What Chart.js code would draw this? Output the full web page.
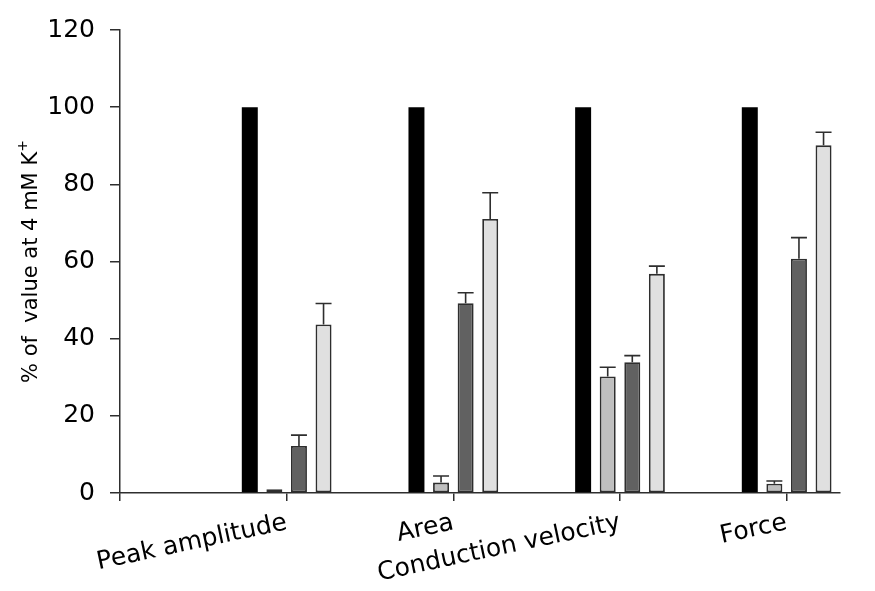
<!DOCTYPE html>
<html>
<head>
<meta charset="utf-8">
<script src="https://cdn.jsdelivr.net/npm/chart.js@4.4.1/dist/chart.umd.min.js"></script>
<style>
    html, body { margin: 0; padding: 0; background: #fff; }
    #wrap { width: 875px; height: 591px; }
</style>
</head>
<body>
<div id="wrap"><canvas id="potassiumChart" width="875" height="591"></canvas></div>
<script>
// measures, one group of bars each
const categories = ['Peak amplitude', 'Area', 'Conduction velocity', 'Force'];

// black reference bars (4 mM K+ = 100 %)
const refValues = [100, 100, 100, 100];

// grey bars and their SEM
const lightValues = [1.0, 2.7, 30.2, 2.4];
const lightErr = [0, 1.7, 2.4, 0.7];
const darkValues = [12.2, 49.2, 33.9, 60.7];
const darkErr = [2.8, 2.7, 1.7, 5.5];
const paleValues = [43.7, 71.0, 56.8, 90.1];
const paleErr = [5.4, 6.8, 2.0, 3.4];

const yTicks = [0, 20, 40, 60, 80, 100, 120];

const colors = {
    black: '#000000',
    light: '#bfbfbf',
    dark: '#616161',
    pale: '#e0e0e0',
    line: '#2e2e2e'
};

const fontFamily = '"DejaVu Sans", sans-serif';

// x is a linear axis so the groups sit on integer ticks 1..4
const toPoints = values => values.map((v, i) => ({ x: i + 1, y: v }));

const makeSet = (label, values, errors, fill, border) => ({
    label: label,
    data: toPoints(values),
    errors: errors,
    backgroundColor: fill,
    borderColor: border,
    borderWidth: border ? 1.8 : 0,
    borderSkipped: false,
    categoryPercentage: 0.59,
    barPercentage: 0.65
});

// upper error whiskers with a cap as wide as the bar
const errorBars = {
    id: 'errorBars',
    afterDatasetsDraw(chart) {
        const ctx = chart.ctx;
        const yScale = chart.scales.y;
        ctx.save();
        ctx.strokeStyle = colors.line;
        ctx.lineWidth = 1.6;
        chart.data.datasets.forEach((ds, di) => {
            if (!ds.errors) return;
            chart.getDatasetMeta(di).data.forEach((bar, i) => {
                const err = ds.errors[i];
                if (!err) return;
                const top = yScale.getPixelForValue(ds.data[i].y + err);
                const half = bar.width / 2;
                ctx.beginPath();
                ctx.moveTo(bar.x, bar.y);
                ctx.lineTo(bar.x, top);
                ctx.moveTo(bar.x - half, top);
                ctx.lineTo(bar.x + half, top);
                ctx.stroke();
            });
        });
        ctx.restore();
    }
};

// rotated y title with a raised "+"
const yTitle = {
    id: 'yTitle',
    afterDraw(chart) {
        const ctx = chart.ctx;
        const area = chart.chartArea;
        const main = '% of  value at 4 mM K';
        const sup = '+';
        ctx.save();
        ctx.fillStyle = '#000';
        ctx.textBaseline = 'alphabetic';
        ctx.font = '21px ' + fontFamily;
        const mainW = ctx.measureText(main).width;
        ctx.font = '14px ' + fontFamily;
        const supW = ctx.measureText(sup).width;
        const total = mainW + supW;
        ctx.translate(37, (area.top + area.bottom) / 2);
        ctx.rotate(-Math.PI / 2);
        ctx.textAlign = 'left';
        ctx.font = '21px ' + fontFamily;
        ctx.fillText(main, -total / 2, 0);
        ctx.font = '14px ' + fontFamily;
        ctx.fillText(sup, -total / 2 + mainW, -10);
        ctx.restore();
    }
};

const ctx = document.getElementById('potassiumChart').getContext('2d');
new Chart(ctx, {
    type: 'bar',
    data: {
        datasets: [
            makeSet('4 mM K+', refValues, null, colors.black, null),
            makeSet('light', lightValues, lightErr, colors.light, colors.line),
            makeSet('dark', darkValues, darkErr, colors.dark, colors.line),
            makeSet('pale', paleValues, paleErr, colors.pale, colors.line)
        ]
    },
    options: {
        responsive: false,
        animation: false,
        devicePixelRatio: 1,
        layout: { padding: { top: 20, right: 35, left: 0, bottom: 0 } },
        plugins: {
            legend: { display: false },
            tooltip: { enabled: false }
        },
        scales: {
            x: {
                type: 'linear',
                min: 0,
                max: 4.32,
                offset: false,
                afterFit: scale => { scale.height = 98; },
                grid: {
                    offset: false,
                    drawOnChartArea: false,
                    drawTicks: true,
                    tickLength: 8,
                    tickColor: colors.line,
                    lineWidth: 1.5
                },
                border: { display: true, color: colors.line, width: 1.5 },
                ticks: {
                    stepSize: 1,
                    includeBounds: false,
                    autoSkip: false,
                    minRotation: 12,
                    maxRotation: 12,
                    padding: 7,
                    color: '#000',
                    font: { family: fontFamily, size: 25 },
                    callback: value => categories[value - 1] || ''
                }
            },
            y: {
                min: 0,
                max: 120,
                afterFit: scale => { scale.width = 120; },
                afterBuildTicks: scale => { scale.ticks = yTicks.map(v => ({ value: v })); },
                grid: {
                    drawOnChartArea: false,
                    drawTicks: true,
                    tickLength: 10,
                    tickColor: colors.line,
                    lineWidth: 1.5
                },
                border: { display: true, color: colors.line, width: 1.5 },
                ticks: {
                    padding: 15,
                    color: '#000',
                    font: { family: fontFamily, size: 25 }
                }
            }
        }
    },
    plugins: [errorBars, yTitle]
});
</script>
</body>
</html>
